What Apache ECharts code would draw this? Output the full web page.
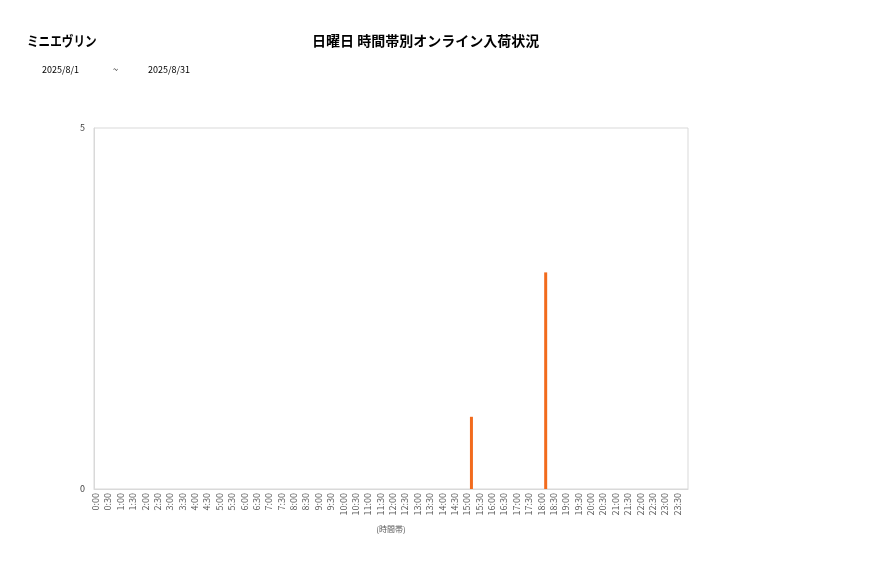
<!DOCTYPE html>
<html><head><meta charset="utf-8">
<script src="https://cdn.jsdelivr.net/npm/echarts@6/dist/echarts.min.js"></script>
<style>html,body{margin:0;padding:0;background:#fff}#c{width:877px;height:578px}</style>
</head><body><div id="c"></div>
<script>
const categories = ["0:00","0:30","1:00","1:30","2:00","2:30","3:00","3:30","4:00","4:30","5:00","5:30","6:00","6:30","7:00","7:30","8:00","8:30","9:00","9:30","10:00","10:30","11:00","11:30","12:00","12:30","13:00","13:30","14:00","14:30","15:00","15:30","16:00","16:30","17:00","17:30","18:00","18:30","19:00","19:30","20:00","20:30","21:00","21:30","22:00","22:30","23:00","23:30"];
const values = [0,0,0,0,0,0,0,0,0,0,0,0,0,0,0,0,0,0,0,0,0,0,0,0,0,0,0,0,0,0,1,0,0,0,0,0,3,0,0,0,0,0,0,0,0,0,0,0];
const yTicks = [0,5];
const font = "'Noto Sans CJK JP', 'Noto Sans', sans-serif";
const chart = echarts.init(document.getElementById('c'));
chart.setOption({
  animation:false,
  backgroundColor:'#fff',
  graphic:[
    {type:'text',x:27,y:34,scaleX:0.83,style:{text:'ミニエヴリン',font:'bold 14px '+font,fill:'#000'}},
    {type:'text',left:312,top:34,style:{text:'日曜日 時間帯別オンライン入荷状況',font:'bold 14px '+font,fill:'#000'}},
    {type:'text',left:42,top:65,style:{text:'2025/8/1',font:'9px '+font,fill:'#000'}},
    {type:'text',left:113,top:65,style:{text:'~',font:'9px '+font,fill:'#000'}},
    {type:'text',left:148,top:65,style:{text:'2025/8/31',font:'9px '+font,fill:'#000'}},
    {type:'rect',shape:{x:94,y:128,width:594,height:361},style:{fill:'none',stroke:'#d9d9d9',lineWidth:1},z:-1}
  ],
  grid:{left:94,top:128,width:594,height:361},
  xAxis:{type:'category',data:categories,
    name:'(時間帯)',nameLocation:'middle',nameGap:36,
    nameTextStyle:{fontSize:8,color:'#595959',fontFamily:font},
    axisLine:{show:true,lineStyle:{color:'#d9d9d9'}},axisTick:{show:false},
    axisLabel:{interval:0,rotate:90,fontSize:9,color:'#595959',fontFamily:font,margin:4,verticalAlign:'bottom',lineHeight:9}},
  yAxis:{type:'value',min:yTicks[0],max:yTicks[1],interval:5,
    splitLine:{show:false},axisLine:{show:true,lineStyle:{color:'#d9d9d9'}},axisTick:{show:false},
    axisLabel:{fontSize:9,color:'#404040',fontFamily:font,margin:9}},
  series:[{type:'bar',data:values,barWidth:3,itemStyle:{color:'#F26B1D'}}]
});
</script></body></html>
